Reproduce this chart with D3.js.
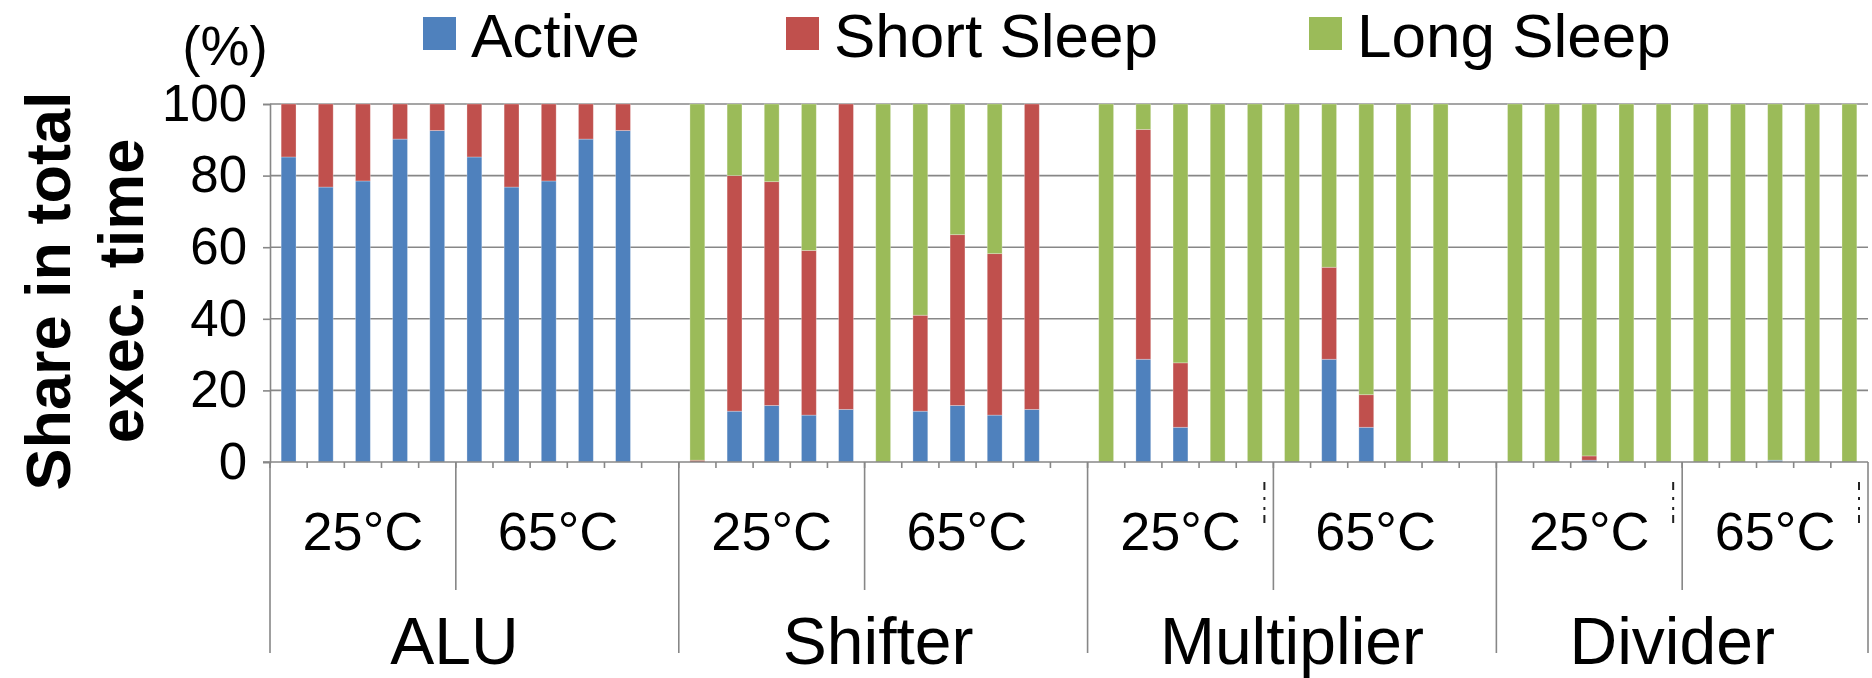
<!DOCTYPE html>
<html>
<head>
<meta charset="utf-8">
<script src="https://cdn.jsdelivr.net/npm/d3@7"></script>
<style>
  html, body { margin: 0; padding: 0; background: #fff; }
  svg { display: block; font-family: "Liberation Sans", Arial, sans-serif; }
</style>
</head>
<body>
<svg id="chart" width="1872" height="678"></svg>
<script>
// ---------------- DATA ----------------
const groups = ["ALU", "Shifter", "Multiplier", "Divider"];
const temps = ["25°C", "65°C"];
const benchPerTemp = 5;
const groupHasBlank = [true, true, true, false];
const seriesNames = ["Active", "Short Sleep", "Long Sleep"];
const yTicks = [0, 20, 40, 60, 80, 100];

// values per bar, in order: group -> temp -> benchmark
const active = [
  85.2, 76.8, 78.5, 90.2, 92.6,   85.2, 76.8, 78.5, 90.2, 92.6,
  0, 14.2, 15.8, 13.1, 14.7,      0, 14.2, 15.8, 13.1, 14.7,
  0, 28.7, 9.7, 0, 0,             0, 28.7, 9.7, 0, 0,
  0, 0, 0.5, 0, 0,                0, 0, 0.5, 0, 0
];
const shortSleep = [
  14.8, 23.2, 21.5, 9.8, 7.4,     14.8, 23.2, 21.5, 9.8, 7.4,
  0.5, 65.8, 62.5, 46.0, 85.3,    0, 26.8, 47.7, 45.1, 85.3,
  0, 64.2, 18.0, 0, 0,            0, 25.7, 9.1, 0, 0,
  0, 0, 1.2, 0, 0,                0, 0, 0, 0, 0
];
const longSleep = [
  0, 0, 0, 0, 0,                  0, 0, 0, 0, 0,
  99.5, 20.0, 21.7, 40.9, 0,      100, 59.0, 36.5, 41.8, 0,
  100, 7.1, 72.3, 100, 100,       100, 45.6, 81.2, 100, 100,
  100, 100, 98.3, 100, 100,       100, 100, 99.5, 100, 100
];

// ---------------- LAYOUT ----------------
const colors = ["#4F81BD", "#C0504D", "#9BBB59"];
const gridColor = "#878787";
const plot = { left: 270, right: 1868, top: 104, bottom: 462 };
const groupLabelDx = [-20, -5, 0, -10];

const svg = d3.select("#chart");

// build category list
const cats = [];
const bars = [];
let bi = 0;
groups.forEach((g, gi) => {
  temps.forEach((t, ti) => {
    for (let b = 0; b < benchPerTemp; b++) {
      const key = `${g}|${t}|${b}`;
      cats.push({ key, g, t, blank: false });
      bars.push({ key, vals: [active[bi], shortSleep[bi], longSleep[bi]] });
      bi++;
    }
  });
  if (groupHasBlank[gi]) cats.push({ key: `${g}|blank`, g, t: temps[1], blank: true });
});

const xCat = d3.scaleBand().domain(cats.map(c => c.key)).range([plot.left, plot.right]).padding(0);
const xBar = d3.scaleBand().domain(cats.map(c => c.key)).range([plot.left, plot.right])
  .paddingInner(0.6).paddingOuter(0.3);
const y = d3.scaleLinear().domain([0, 100]).range([plot.bottom, plot.top]);

// gridlines
svg.append("g").selectAll("line").data(yTicks.filter(v => v > 0)).join("line")
  .attr("x1", plot.left).attr("x2", plot.right)
  .attr("y1", d => y(d)).attr("y2", d => y(d))
  .attr("stroke", gridColor).attr("stroke-width", 1.6);

// stacked bars
const stack = d3.stack().keys([0, 1, 2]).value((d, k) => d.vals[k]);
const stacked = stack(bars);
svg.append("g").selectAll("g").data(stacked).join("g")
  .attr("fill", (d, i) => colors[i])
  .selectAll("rect").data(d => d).join("rect")
  .attr("x", d => xBar(d.data.key))
  .attr("width", xBar.bandwidth())
  .attr("y", d => y(d[1]))
  .attr("height", d => Math.max(0, y(d[0]) - y(d[1])))
  .attr("stroke", "#ffffff").attr("stroke-opacity", 0.35).attr("stroke-width", 0.8);

// y axis
const yAxis = d3.axisLeft(y).tickValues(yTicks).tickSize(7).tickPadding(16).tickFormat(d3.format("d"));
const yg = svg.append("g").attr("transform", `translate(${plot.left},0)`).call(yAxis);
yg.select(".domain").attr("stroke", gridColor).attr("stroke-width", 1.6);
yg.selectAll(".tick line").attr("stroke", gridColor).attr("stroke-width", 1.6);
yg.selectAll(".tick text").attr("font-size", 51).attr("fill", "#000")
  .attr("font-family", "Liberation Sans, Arial, sans-serif");

// x axis line
svg.append("line")
  .attr("x1", plot.left - 7).attr("x2", plot.right)
  .attr("y1", plot.bottom).attr("y2", plot.bottom)
  .attr("stroke", gridColor).attr("stroke-width", 1.6);

// small ticks at category boundaries
const boundaryKeys = cats.map(c => c.key);
svg.append("g").selectAll("line").data(boundaryKeys).join("line")
  .attr("x1", d => xCat(d)).attr("x2", d => xCat(d))
  .attr("y1", plot.bottom).attr("y2", plot.bottom + 6)
  .attr("stroke", gridColor).attr("stroke-width", 1.6);

// temperature and group spans
const tempSpans = [];
const groupSpans = [];
groups.forEach((g, gi) => {
  const gc = cats.filter(c => c.g === g);
  const gx0 = xCat(gc[0].key), gx1 = xCat(gc[gc.length - 1].key) + xCat.bandwidth();
  groupSpans.push({ label: g, x0: gx0, x1: gx1, dx: groupLabelDx[gi] });
  temps.forEach(t => {
    const tc = gc.filter(c => c.t === t);
    const tcFilled = tc.filter(c => !c.blank);
    const x0 = xCat(tc[0].key);
    const x1 = xCat(tc[tc.length - 1].key) + xCat.bandwidth();
    const x1f = xCat(tcFilled[tcFilled.length - 1].key) + xCat.bandwidth();
    // label sits between the centre of the filled categories and the full span
    const cx = ((x0 + x1) / 2 + (x0 + x1f) / 2) / 2;
    tempSpans.push({ label: t, g, x0, x1, cx });
  });
});

// group separator lines (long)
const groupEdges = [plot.left].concat(groupSpans.map(s => s.x1));
svg.append("g").selectAll("line").data(groupEdges).join("line")
  .attr("x1", d => d).attr("x2", d => d)
  .attr("y1", plot.bottom).attr("y2", 653)
  .attr("stroke", gridColor).attr("stroke-width", 1.6);

// temp separators (short)
const tempEdges = tempSpans.filter(s => s.label === temps[0]).map(s => s.x1);
svg.append("g").selectAll("line").data(tempEdges).join("line")
  .attr("x1", d => d).attr("x2", d => d)
  .attr("y1", plot.bottom).attr("y2", 590)
  .attr("stroke", gridColor).attr("stroke-width", 1.6);

// tiny clipped-label artifacts visible in the original
const artifactSpans = [tempSpans[4], tempSpans[6], tempSpans[7]];
svg.append("g").selectAll("line").data(artifactSpans).join("line")
  .attr("x1", d => d.x1 - 9).attr("x2", d => d.x1 - 9)
  .attr("y1", 482).attr("y2", 523)
  .attr("stroke", "#222").attr("stroke-width", 2)
  .attr("stroke-dasharray", "8,7,3,7,3,5,8");

// temperature labels
svg.append("g").selectAll("text").data(tempSpans).join("text")
  .attr("x", d => d.cx)
  .attr("y", 550)
  .attr("text-anchor", "middle")
  .attr("font-size", 54)
  .attr("fill", "#000")
  .text(d => d.label);

// group labels
svg.append("g").selectAll("text").data(groupSpans).join("text")
  .attr("x", d => (d.x0 + d.x1) / 2 + d.dx)
  .attr("y", 664)
  .attr("text-anchor", "middle")
  .attr("font-size", 66)
  .attr("fill", "#000")
  .text(d => d.label);

// y-axis title
const titleLines = ["Share in total", "exec. time"];
const titleX = [70, 143];
svg.append("g").selectAll("text").data(titleLines).join("text")
  .attr("transform", (d, i) => `translate(${titleX[i]},${291}) rotate(-90)`)
  .attr("text-anchor", "middle")
  .attr("font-size", 63)
  .attr("font-weight", "bold")
  .attr("fill", "#000")
  .text(d => d);

// unit label
svg.append("text")
  .attr("x", 225).attr("y", 65)
  .attr("text-anchor", "middle")
  .attr("font-size", 55)
  .attr("fill", "#000")
  .text("(%)");

// legend
const legendX = [423, 786, 1309];
const lg = svg.append("g").selectAll("g").data(seriesNames).join("g")
  .attr("transform", (d, i) => `translate(${legendX[i]},17)`);
lg.append("rect").attr("width", 33).attr("height", 33).attr("fill", (d, i) => colors[i]);
lg.append("text").attr("x", 48).attr("y", 40)
  .attr("font-size", 62).attr("fill", "#000").text(d => d);
</script>
</body>
</html>
